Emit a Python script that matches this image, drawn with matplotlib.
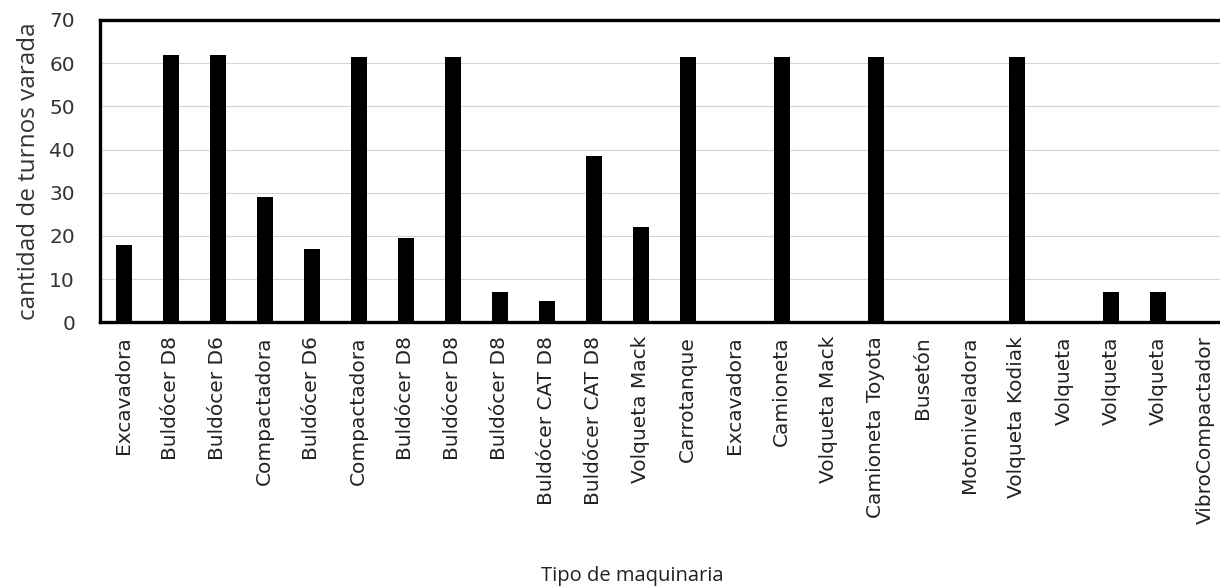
import numpy as np
import matplotlib
matplotlib.use("Agg")
import matplotlib.pyplot as plt

# data
maquinas = [
    "Excavadora", "Buldócer D8", "Buldócer D6", "Compactadora", "Buldócer D6",
    "Compactadora", "Buldócer D8", "Buldócer D8", "Buldócer D8", "Buldócer CAT D8",
    "Buldócer CAT D8", "Volqueta Mack", "Carrotanque", "Excavadora", "Camioneta",
    "Volqueta Mack", "Camioneta Toyota", "Busetón", "Motoniveladora", "Volqueta Kodiak",
    "Volqueta", "Volqueta", "Volqueta", "VibroCompactador",
]
turnos = [18, 62, 62, 29, 17, 61.5, 19.5, 61.5, 7, 5,
          38.5, 22, 61.5, 0, 61.5, 0, 61.5, 0, 0, 61.5,
          0, 7, 7, 0]
y_ticks = [0, 10, 20, 30, 40, 50, 60, 70]

fig = plt.figure(figsize=(12.2, 5.88), dpi=100)
ax = fig.add_axes([0.082, 0.452, 0.925, 0.514])

x = np.arange(len(maquinas))
ax.bar(x, turnos, width=0.34, color="black", zorder=3)

ax.set_xlim(-0.5, len(maquinas) - 0.5)
ax.set_ylim(0, 70)
ax.set_yticks(y_ticks)
ax.set_xticks(x)
ax.set_xticklabels(maquinas, rotation=90, fontsize=14.5, family="DejaVu Sans",
                   color="#222222")
ax.tick_params(axis="x", length=0, pad=10)
ax.tick_params(axis="y", length=0, labelsize=14.5, labelcolor="#333333", pad=18)

ax.yaxis.grid(True, color="#d4d4d4", linewidth=0.8, zorder=0)
ax.set_axisbelow(True)

for side in ["left", "top", "bottom"]:
    ax.spines[side].set_linewidth(2.4)
    ax.spines[side].set_color("black")
ax.spines["right"].set_visible(False)

ax.set_ylabel("cantidad de turnos varada", fontsize=17.5, family="Open Sans",
              color="#333333", labelpad=6)
fig.text(0.518, 0.012, "Tipo de maquinaria", ha="center", fontsize=14.5,
         family="Open Sans", color="#222222")

fig.savefig("out.png", dpi=100, facecolor="white")
